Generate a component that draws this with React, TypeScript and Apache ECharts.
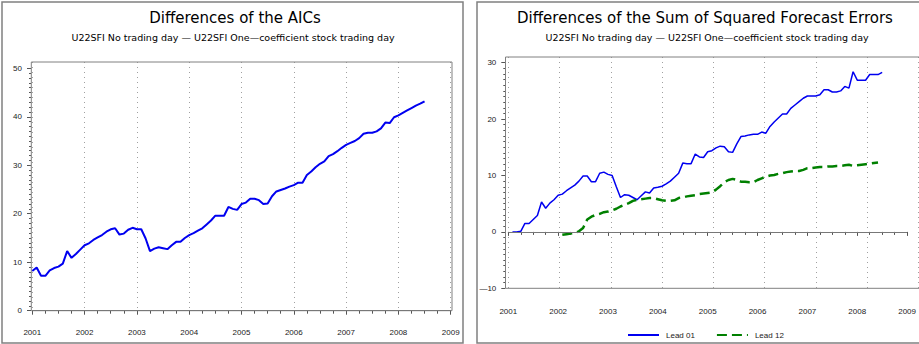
import React, { useEffect, useRef } from "react";
import * as echarts from "echarts";

// ---------- data ----------
const START_YEAR = 2001;
const yearTicks = [2001, 2002, 2003, 2004, 2005, 2006, 2007, 2008, 2009];

const aicTitle = "Differences of the AICs";
const sseTitle = "Differences of the Sum of Squared Forecast Errors";
const subTitle = "U22SFI No trading day \u2014 U22SFI One\u2014coefficient stock trading day";
const legendNames = ["Lead 01", "Lead 12"];

// monthly values, first value at month offset (0 = Jan 2001)
const aicFirstMonth = 0;
const aicDiff = [
  8.2, 8.9, 7.2, 7.2, 8.3, 8.8, 9.1, 9.7, 12.3, 10.9, 11.7, 12.6,
  13.5, 13.9, 14.6, 15.1, 15.6, 16.3, 16.8, 17.0, 15.7, 15.9, 16.7, 17.1,
  16.8, 16.8, 14.9, 12.3, 12.8, 13.1, 12.9, 12.7, 13.5, 14.2, 14.2, 15.0,
  15.6, 16.0, 16.5, 17.0, 17.8, 18.6, 19.6, 19.6, 19.6, 21.4, 21.0, 20.8,
  22.0, 22.3, 23.1, 23.1, 22.8, 22.0, 22.1, 23.6, 24.6, 24.9, 25.2, 25.6,
  25.9, 26.4, 26.4, 28.0, 28.7, 29.6, 30.3, 30.8, 31.9, 32.3, 32.9, 33.6,
  34.2, 34.6, 35.0, 35.6, 36.5, 36.7, 36.7, 37.0, 37.6, 38.8, 38.7, 39.9,
  40.3, 40.8, 41.3, 41.8, 42.3, 42.7, 43.2,
];

const lead01FirstMonth = 1;
const lead01 = [
  0.0, 0.0, 0.1, 1.5, 1.5, 2.2, 2.9, 5.3, 4.2, 5.1, 5.7,
  6.5, 6.7, 7.3, 7.8, 8.3, 9.0, 9.9, 9.9, 8.9, 8.9, 10.4, 10.6,
  10.2, 10.0, 8.0, 6.1, 6.6, 6.5, 6.1, 5.7, 6.4, 7.1, 6.9, 7.8,
  7.9, 8.1, 8.5, 9.0, 9.7, 10.4, 12.2, 12.1, 12.1, 13.8, 13.3, 13.2,
  14.2, 14.4, 14.9, 15.2, 15.1, 14.2, 14.1, 15.6, 16.9, 17.0, 17.2, 17.3,
  17.3, 17.7, 17.5, 18.7, 19.5, 20.2, 20.9, 20.9, 21.9, 22.5, 23.1, 23.7,
  24.1, 24.1, 24.1, 24.3, 25.2, 25.2, 24.8, 24.8, 25.0, 25.8, 25.5, 28.4,
  26.9, 26.9, 26.9, 27.9, 27.9, 27.9, 28.3,
];

const lead12FirstMonth = 13;
const lead12 = [
  -0.5, -0.4, -0.3, -0.2, 0.1, 0.7, 2.2, 2.7, 3.0, 3.2, 3.5,
  3.6, 3.8, 4.1, 4.5, 4.8, 5.1, 5.5, 5.7, 5.8, 5.9, 6.0, 6.0,
  5.8, 5.6, 5.5, 5.5, 5.6, 6.0, 6.1, 6.3, 6.4, 6.5, 6.7, 6.8,
  6.9, 7.0, 7.5, 8.1, 8.8, 9.2, 9.4, 9.2, 8.9, 8.9, 8.8, 8.8,
  9.2, 9.5, 9.8, 10.0, 10.1, 10.3, 10.4, 10.6, 10.7, 10.8, 10.8, 11.0,
  11.3, 11.3, 11.4, 11.5, 11.5, 11.6, 11.6, 11.7, 11.7, 11.8, 11.9, 11.7,
  11.8, 11.9, 12.0, 12.1, 12.2, 12.3,
];

const aicTicks = [0, 50, 10];
const sseTicks = [-10, 30, 10];

function toPoints(first: number, vals: number[]) {
  return vals.map((v, i) => [START_YEAR + (first + i) / 12, v]);
}

// ---------- styles ----------
const labelFamily = "'Liberation Sans', Arial, sans-serif";
const titleFamily = "'DejaVu Sans', sans-serif";
const axisGray = "#555";
const frameGray = "#808080";
const labelColor = "#222";

function dataX(grid: number, offset: number) {
  return {
    type: "value",
    gridIndex: grid,
    min: yearTicks[0],
    max: yearTicks[yearTicks.length - 1],
    interval: 1,
    offset,
    axisLine: { show: true, lineStyle: { color: axisGray, width: 1 } },
    axisTick: { show: true, length: 4, lineStyle: { color: axisGray } },
    minorTick: { show: true, splitNumber: 4, length: 3, lineStyle: { color: axisGray } },
    axisLabel: {
      margin: 13,
      fontSize: 8,
      fontFamily: labelFamily,
      color: labelColor,
      formatter: (v: number) => String(v),
    },
    splitLine: { show: false },
  };
}

function frameX(grid: number) {
  return {
    type: "value",
    gridIndex: grid,
    min: yearTicks[0],
    max: yearTicks[yearTicks.length - 1],
    interval: 1,
    axisLine: { show: false },
    axisTick: { show: false },
    axisLabel: { show: false },
    splitLine: { show: true, lineStyle: { color: "#a0a0a0", type: [1, 4], width: 1 } },
  };
}

function dataY(grid: number, t: number[], offset: number) {
  return {
    type: "value",
    gridIndex: grid,
    min: t[0],
    max: t[1],
    interval: t[2],
    offset,
    axisLine: { show: false },
    axisTick: { show: true, length: 4, lineStyle: { color: axisGray } },
    minorTick: { show: true, splitNumber: 10, length: 2, lineStyle: { color: axisGray } },
    axisLabel: {
      margin: 9,
      fontSize: 8,
      fontFamily: labelFamily,
      color: labelColor,
      formatter: (v: number) => (v < 0 ? "\u2014" + Math.abs(v) : String(v)),
    },
    splitLine: { show: false },
  };
}

function frameY(grid: number) {
  return { type: "value", gridIndex: grid, min: 0, max: 1, show: false, splitLine: { show: false } };
}

function titleText(x: number, y: number, text: string, size: number) {
  return {
    type: "text",
    x,
    y,
    z: 5,
    style: {
      text,
      fontSize: size,
      fontFamily: titleFamily,
      fill: "#000",
      align: "center",
      verticalAlign: "middle",
    },
  };
}

function box(x: number, y: number, w: number, h: number, lw: number) {
  return {
    type: "rect",
    z: 1,
    silent: true,
    shape: { x, y, width: w, height: h },
    style: { fill: "none", stroke: frameGray, lineWidth: lw },
  };
}

export default function App() {
  const ref = useRef<HTMLDivElement>(null);

  useEffect(() => {
    if (!ref.current) return;
    const chart = echarts.init(ref.current, undefined, { renderer: "svg" });
    const option: any = {
      animation: false,
      backgroundColor: "#ffffff",
      grid: [
        { left: 32.3, right: 468.3, top: 68.3, bottom: 33.3 },
        { left: 32.3, right: 468.3, top: 62, bottom: 33.3 },
        { left: 508.3, right: 0.5, top: 62.7, bottom: 55.7 },
        { left: 508.3, right: 0.5, top: 57, bottom: 55.7 },
      ],
      xAxis: [dataX(0, 4.5), frameX(1), dataX(2, 6), frameX(3)],
      yAxis: [dataY(0, aicTicks, 1.3), frameY(1), dataY(2, sseTicks, 3), frameY(3)],
      legend: {
        data: legendNames,
        left: 622,
        top: 326,
        itemWidth: 31,
        itemHeight: 10,
        itemGap: 21,
        itemStyle: { opacity: 0 },
        textStyle: { fontSize: 8, fontFamily: labelFamily, color: labelColor, padding: [0, 0, 0, 2] },
      },
      graphic: [
        box(2, 2, 461, 341, 1.5),
        box(477, 2, 470, 341, 1.5),
        box(31.3, 62, 420.7, 248.7, 1),
        box(505.5, 57, 440, 231.3, 1),
        titleText(235, 18, aicTitle, 15),
        titleText(233, 37, subTitle, 9.5),
        titleText(705, 18, sseTitle, 15),
        titleText(707, 37, subTitle, 9.5),
      ],
      series: [
        {
          name: "AIC",
          type: "line",
          xAxisIndex: 0,
          yAxisIndex: 0,
          symbol: "none",
          data: toPoints(aicFirstMonth, aicDiff),
          lineStyle: { color: "#0000f0", width: 2 },
          itemStyle: { color: "#0000f0" },
        },
        {
          name: legendNames[0],
          type: "line",
          xAxisIndex: 2,
          yAxisIndex: 2,
          symbol: "none",
          data: toPoints(lead01FirstMonth, lead01),
          lineStyle: { color: "#0000f0", width: 1.5 },
          itemStyle: { color: "#0000f0" },
          markLine: {
            silent: true,
            symbol: ["none", "none"],
            label: { show: false },
            lineStyle: { color: "#777", width: 1, type: "solid" },
            data: [{ yAxis: 0 }],
          },
        },
        {
          name: legendNames[1],
          type: "line",
          xAxisIndex: 2,
          yAxisIndex: 2,
          symbol: "none",
          data: toPoints(lead12FirstMonth, lead12),
          lineStyle: { color: "#008000", width: 2.5, type: [10, 5] },
          itemStyle: { color: "#008000" },
        },
      ],
    };
    chart.setOption(option);
    return () => chart.dispose();
  }, []);

  return (
    <div
      ref={ref}
      style={{ position: "absolute", left: 0, top: 0, width: 919, height: 344, background: "#fff" }}
    />
  );
}
